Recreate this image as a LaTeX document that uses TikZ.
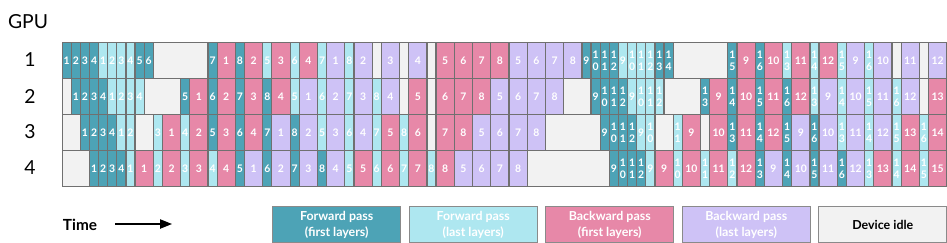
\documentclass[tikz,border=0pt]{standalone}
\usepackage{fontspec}
\setmainfont{Lato}
\usepackage{tikz}
\usetikzlibrary{arrows.meta,positioning}
\definecolor{FwdFirst}{HTML}{4DA3B6}
\definecolor{FwdLast}{HTML}{AEE7F0}
\definecolor{BwdFirst}{HTML}{E788A8}
\definecolor{BwdLast}{HTML}{CEC2F6}
\definecolor{Idle}{HTML}{F2F2F2}
\definecolor{Edge}{HTML}{707070}
\definecolor{KeyEdge}{HTML}{8A8A8A}
\tikzset{blk/.style={draw=Edge,line width=0.9pt,inner sep=0pt,minimum height=27pt,
    align=center,text=white,font=\bfseries\fontsize{7.8}{8.6}\selectfont},
  fwd/.style={blk,minimum width=6.84pt},
  bwd/.style={blk,minimum width=13.68pt},
  fa/.style={fwd,fill=FwdFirst},
  fb/.style={fwd,fill=FwdLast},
  ba/.style={bwd,fill=BwdFirst},
  bb/.style={bwd,fill=BwdLast},
  gpurow/.style={draw=Edge,line width=0.9pt,fill=Idle,inner sep=0pt,
    minimum width=663.4pt,minimum height=27pt,anchor=north west},
  gpulabel/.style={font=\fontsize{14.5}{16}\selectfont,text=black},
  keybox/.style={draw=KeyEdge,line width=1pt,inner sep=0pt,minimum width=96pt,
    minimum height=27pt,align=center,text=white,
    font=\bfseries\fontsize{9.3}{12}\selectfont},
  timeline/.style={-{Triangle[length=9pt,width=7pt]},line width=1pt,draw=black}}

\begin{document}
\begin{tikzpicture}[x=0.75pt,y=-0.75pt]
  \useasboundingbox (0,0) rectangle (947,243);
  % axis labels
  \node[gpulabel] (gpu) at (28,22) {GPU};
  \foreach \r/\y in {1/42,2/78,3/114,4/150}{
    \node[gpurow] (row\r) at (61.5,\y) {};
    \node[gpulabel] (lab\r) at (30,\y+18) {\r};
  }
  % GPU 1
  \foreach \s/\k/\n in {0/fa/1,1/fa/2,2/fa/3,3/fa/4,4/fb/1,5/fb/2,6/fb/3,7/fb/4,8/fa/5,9/fa/6,
      16/fa/7,17/ba/1,19/fa/8,20/ba/2,22/fb/5,23/ba/3,25/fb/6,26/ba/4,28/fb/7,29/bb/1,
      31/fb/8,32/bb/2,35/bb/3,38/bb/4,41/ba/5,43/ba/6,45/ba/7,47/ba/8,49/bb/5,51/bb/6,
      53/bb/7,55/bb/8,57/fa/9,58/fa/{1\\0},59/fa/{1\\1},60/fa/{1\\2},61/fb/9,62/fb/{1\\0},
      63/fb/{1\\1},64/fb/{1\\2},65/fa/{1\\3},66/fa/{1\\4},73/fa/{1\\5},74/ba/9,76/fa/{1\\6},
      77/ba/10,79/fb/{1\\3},80/ba/11,82/fb/{1\\4},83/ba/12,85/fb/{1\\5},86/bb/9,
      88/fb/{1\\6},89/bb/10,92/bb/11,95/bb/12}
    \node[\k,anchor=north west] (a\s) at ({61.5+\s*9.12},42) {\n};
  % GPU 2
  \foreach \s/\k/\n in {1/fa/1,2/fa/2,3/fa/3,4/fa/4,5/fb/1,6/fb/2,7/fb/3,8/fb/4,
      13/fa/5,14/ba/1,16/fa/6,17/ba/2,19/fa/7,20/ba/3,22/fa/8,23/ba/4,25/fb/5,26/bb/1,
      28/fb/6,29/bb/2,31/fb/7,32/bb/3,34/fb/8,35/bb/4,38/ba/5,41/ba/6,43/ba/7,45/ba/8,
      47/bb/5,49/bb/6,51/bb/7,53/bb/8,58/fa/9,59/fa/{1\\0},60/fa/{1\\1},61/fa/{1\\2},
      62/fb/9,63/fb/{1\\0},64/fb/{1\\1},65/fb/{1\\2},70/fa/{1\\3},71/ba/9,73/fa/{1\\4},
      74/ba/10,76/fa/{1\\5},77/ba/11,79/fa/{1\\6},80/ba/12,82/fb/{1\\3},83/bb/9,
      85/fb/{1\\4},86/bb/10,88/fb/{1\\5},89/bb/11,91/fb/{1\\6},92/bb/12,95/ba/13}
    \node[\k,anchor=north west] (b\s) at ({61.5+\s*9.12},78) {\n};
  % GPU 3
  \foreach \s/\k/\n in {2/fa/1,3/fa/2,4/fa/3,5/fa/4,6/fb/1,7/fb/2,10/fb/3,11/ba/1,
      13/fb/4,14/ba/2,16/fa/5,17/ba/3,19/fa/6,20/ba/4,22/fa/7,23/bb/1,25/fa/8,26/bb/2,
      28/fb/5,29/bb/3,31/fb/6,32/bb/4,34/fb/7,35/ba/5,37/fb/8,38/ba/6,41/ba/7,43/ba/8,
      45/bb/5,47/bb/6,49/bb/7,51/bb/8,59/fa/9,60/fa/{1\\0},61/fa/{1\\1},62/fa/{1\\2},
      63/fb/9,64/fb/{1\\0},67/fb/{1\\1},68/ba/9,71/ba/10,73/fa/{1\\3},74/ba/11,
      76/fa/{1\\4},77/ba/12,79/fa/{1\\5},80/bb/9,82/fa/{1\\6},83/bb/10,85/fb/{1\\3},
      86/bb/11,88/fb/{1\\4},89/bb/12,91/fb/{1\\5},92/ba/13,94/fb/{1\\6},95/ba/14}
    \node[\k,anchor=north west] (c\s) at ({61.5+\s*9.12},114) {\n};
  % GPU 4
  \foreach \s/\k/\n in {3/fa/1,4/fa/2,5/fa/3,6/fa/4,7/fb/1,8/ba/1,10/fb/2,11/ba/2,
      13/fb/3,14/ba/3,16/fb/4,17/ba/4,19/fa/5,20/bb/1,22/fa/6,23/bb/2,25/fa/7,26/bb/3,
      28/fa/8,29/bb/4,31/fb/5,32/ba/5,34/fb/6,35/ba/6,37/fb/7,38/ba/7,40/fb/8,41/ba/8,
      43/bb/5,45/bb/6,47/bb/7,49/bb/8,60/fa/9,61/fa/{1\\0},62/fa/{1\\1},63/fa/{1\\2},
      64/fb/9,65/ba/9,67/fb/{1\\0},68/ba/10,70/fb/{1\\1},71/ba/11,73/fb/{1\\2},74/ba/12,
      76/fa/{1\\3},77/bb/9,79/fa/{1\\4},80/bb/10,82/fa/{1\\5},83/bb/11,85/fa/{1\\6},
      86/bb/12,88/fb/{1\\3},89/ba/13,91/fb/{1\\4},92/ba/14,94/fb/{1\\5},95/ba/15}
    \node[\k,anchor=north west] (d\s) at ({61.5+\s*9.12},150) {\n};
  % time arrow
  \node[font=\bfseries\fontsize{11.5}{13}\selectfont] (time) at (80,225) {Time};
  \coordinate (arrowtail) at (115,224);
  \coordinate (arrowtip) at (172,224);
  \draw[timeline] (arrowtail) -- (arrowtip);
  % legend
  \node[keybox,fill=FwdFirst,anchor=north west] (keyfa) at (272,206) {Forward pass\\(first layers)};
  \node[keybox,fill=FwdLast,right=5.4pt of keyfa] (keyfb) {Forward pass\\(last layers)};
  \node[keybox,fill=BwdFirst,right=5.4pt of keyfb] (keyba) {Backward pass\\(first layers)};
  \node[keybox,fill=BwdLast,right=5.4pt of keyba] (keybb) {Backward pass\\(last layers)};
  \node[keybox,fill=Idle,text=black,right=5.4pt of keybb] (keyidle) {Device idle};
\end{tikzpicture}
\end{document}
